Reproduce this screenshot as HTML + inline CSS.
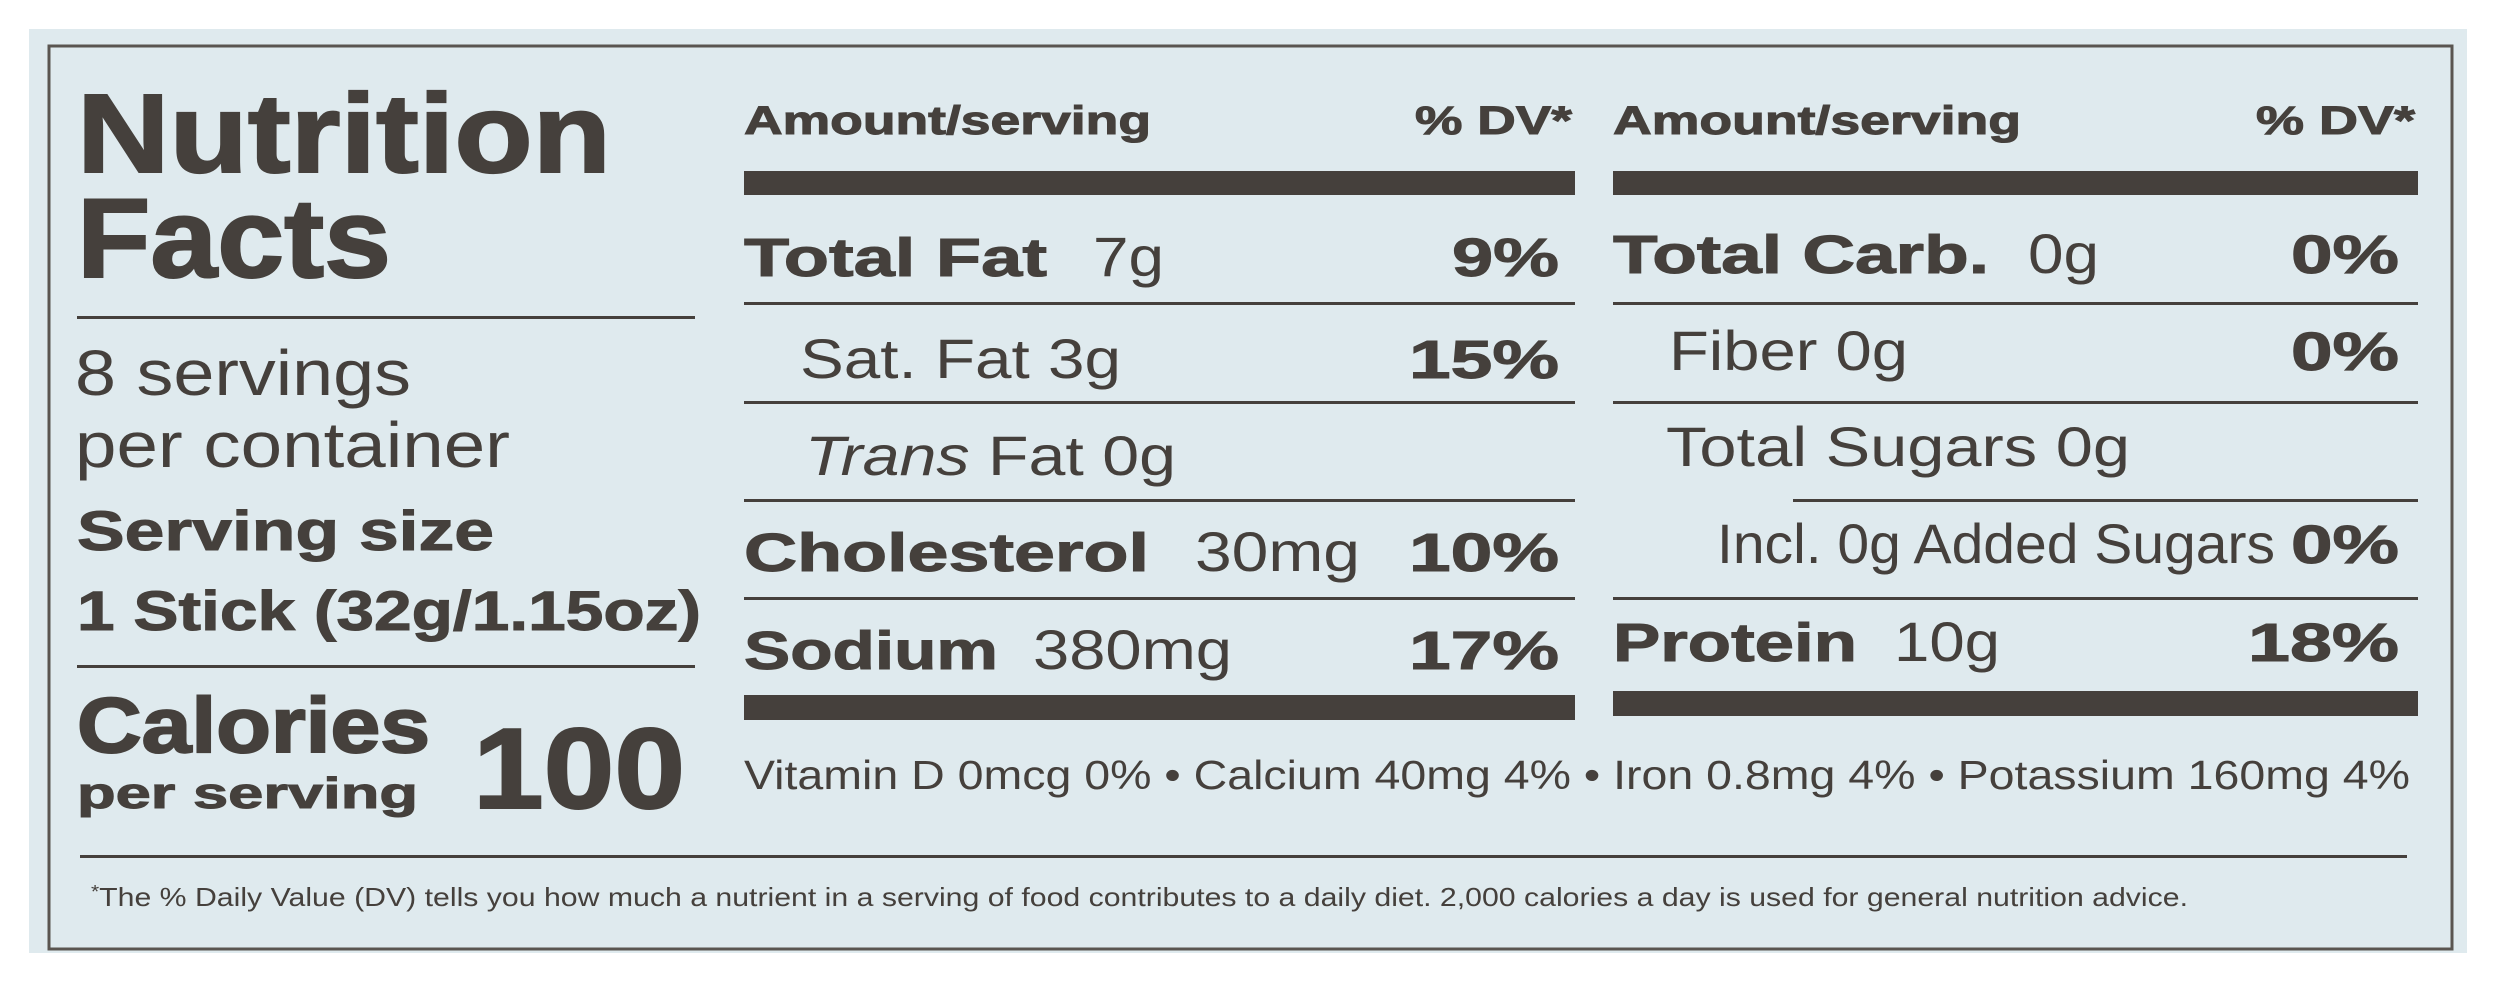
<!DOCTYPE html>
<html><head><meta charset="utf-8"><style>
html,body{margin:0;padding:0;background:#fff;}
svg{display:block;}
text{font-family:"Liberation Sans",Arial,sans-serif;fill:#45403c;}
.h{font-weight:bold;stroke:#45403c;stroke-width:2;}
.b{font-weight:bold;stroke:#45403c;stroke-width:1;}
</style></head><body>
<svg width="2499" height="986" viewBox="0 0 2499 986" xmlns="http://www.w3.org/2000/svg">
<rect x="29" y="29" width="2438" height="924" fill="#dfeaee"/>
<rect x="49" y="46" width="2403" height="903" fill="none" stroke="#5a5550" stroke-width="3"/>
<g fill="#45403c">
<rect x="77" y="316" width="618" height="3"/>
<rect x="77" y="665" width="618" height="3"/>
<rect x="80" y="855" width="2327" height="3"/>
<rect x="744" y="171" width="831" height="24"/>
<rect x="744" y="302" width="831" height="3"/>
<rect x="744" y="401" width="831" height="3"/>
<rect x="744" y="499" width="831" height="3"/>
<rect x="744" y="597" width="831" height="3"/>
<rect x="744" y="695" width="831" height="25"/>
<rect x="1613" y="171" width="805" height="24"/>
<rect x="1613" y="302" width="805" height="3"/>
<rect x="1613" y="401" width="805" height="3"/>
<rect x="1793" y="499" width="625" height="3"/>
<rect x="1613" y="597" width="805" height="3"/>
<rect x="1613" y="691" width="805" height="25"/>
</g>
<text x="77" y="172" font-size="112" class="h" textLength="534" lengthAdjust="spacingAndGlyphs">Nutrition</text>
<text x="77" y="277" font-size="112" class="h" textLength="314" lengthAdjust="spacingAndGlyphs">Facts</text>
<text x="75" y="395" font-size="64" textLength="336" lengthAdjust="spacingAndGlyphs">8 servings</text>
<text x="75" y="467" font-size="64" textLength="435" lengthAdjust="spacingAndGlyphs">per container</text>
<text x="77" y="550" font-size="56" class="b" textLength="417" lengthAdjust="spacingAndGlyphs">Serving size</text>
<text x="77" y="630" font-size="56" class="b" textLength="624" lengthAdjust="spacingAndGlyphs">1 Stick (32g/1.15oz)</text>
<text x="77" y="752" font-size="78" class="h" textLength="353" lengthAdjust="spacingAndGlyphs">Calories</text>
<text x="77" y="808" font-size="44" class="b" textLength="341" lengthAdjust="spacingAndGlyphs">per serving</text>
<text x="473" y="808" font-size="114" class="h" textLength="212" lengthAdjust="spacingAndGlyphs">100</text>

<text x="744" y="134" font-size="40" class="b" textLength="407" lengthAdjust="spacingAndGlyphs">Amount/serving</text>
<text x="1415" y="134" font-size="40" class="b" textLength="157" lengthAdjust="spacingAndGlyphs">% DV*</text>
<text x="744" y="276" font-size="54" class="b" textLength="303" lengthAdjust="spacingAndGlyphs">Total Fat</text>
<text x="1093" y="276" font-size="56" textLength="71" lengthAdjust="spacingAndGlyphs">7g</text>
<text x="1452" y="276" font-size="54" class="b" textLength="107" lengthAdjust="spacingAndGlyphs">9%</text>
<text x="800" y="378" font-size="56" textLength="321" lengthAdjust="spacingAndGlyphs">Sat. Fat 3g</text>
<text x="1409" y="378" font-size="54" class="b" textLength="150" lengthAdjust="spacingAndGlyphs">15%</text>
<text x="805" y="475" font-size="56" textLength="371" lengthAdjust="spacingAndGlyphs"><tspan font-style="italic">Trans</tspan> Fat 0g</text>
<text x="744" y="571" font-size="54" class="b" textLength="405" lengthAdjust="spacingAndGlyphs">Cholesterol</text>
<text x="1195" y="571" font-size="56" textLength="165" lengthAdjust="spacingAndGlyphs">30mg</text>
<text x="1409" y="571" font-size="54" class="b" textLength="150" lengthAdjust="spacingAndGlyphs">10%</text>
<text x="744" y="669" font-size="54" class="b" textLength="254" lengthAdjust="spacingAndGlyphs">Sodium</text>
<text x="1033" y="669" font-size="56" textLength="199" lengthAdjust="spacingAndGlyphs">380mg</text>
<text x="1409" y="669" font-size="54" class="b" textLength="150" lengthAdjust="spacingAndGlyphs">17%</text>
<text x="744" y="789" font-size="41" textLength="1666" lengthAdjust="spacingAndGlyphs">Vitamin D 0mcg 0% • Calcium 40mg 4% • Iron 0.8mg 4% • Potassium 160mg 4%</text>

<text x="1613" y="134" font-size="40" class="b" textLength="408" lengthAdjust="spacingAndGlyphs">Amount/serving</text>
<text x="2256" y="134" font-size="40" class="b" textLength="159" lengthAdjust="spacingAndGlyphs">% DV*</text>
<text x="1613" y="273" font-size="54" class="b" textLength="376" lengthAdjust="spacingAndGlyphs">Total Carb.</text>
<text x="2028" y="273" font-size="56" textLength="71" lengthAdjust="spacingAndGlyphs">0g</text>
<text x="2291" y="273" font-size="54" class="b" textLength="108" lengthAdjust="spacingAndGlyphs">0%</text>
<text x="1669" y="370" font-size="56" textLength="239" lengthAdjust="spacingAndGlyphs">Fiber 0g</text>
<text x="2291" y="370" font-size="54" class="b" textLength="108" lengthAdjust="spacingAndGlyphs">0%</text>
<text x="1666" y="466" font-size="56" textLength="464" lengthAdjust="spacingAndGlyphs">Total Sugars 0g</text>
<text x="1717" y="563" font-size="56" textLength="558" lengthAdjust="spacingAndGlyphs">Incl. 0g Added Sugars</text>
<text x="2291" y="563" font-size="54" class="b" textLength="108" lengthAdjust="spacingAndGlyphs">0%</text>
<text x="1613" y="661" font-size="54" class="b" textLength="244" lengthAdjust="spacingAndGlyphs">Protein</text>
<text x="1894" y="661" font-size="56" textLength="106" lengthAdjust="spacingAndGlyphs">10g</text>
<text x="2248" y="661" font-size="54" class="b" textLength="151" lengthAdjust="spacingAndGlyphs">18%</text>

<text x="91" y="906" font-size="26" textLength="2097" lengthAdjust="spacingAndGlyphs"><tspan font-size="18" dy="-8">*</tspan><tspan dy="8">The % Daily Value (DV) tells you how much a nutrient in a serving of food contributes to a daily diet. 2,000 calories a day is used for general nutrition advice.</tspan></text>
</svg>
</body></html>
